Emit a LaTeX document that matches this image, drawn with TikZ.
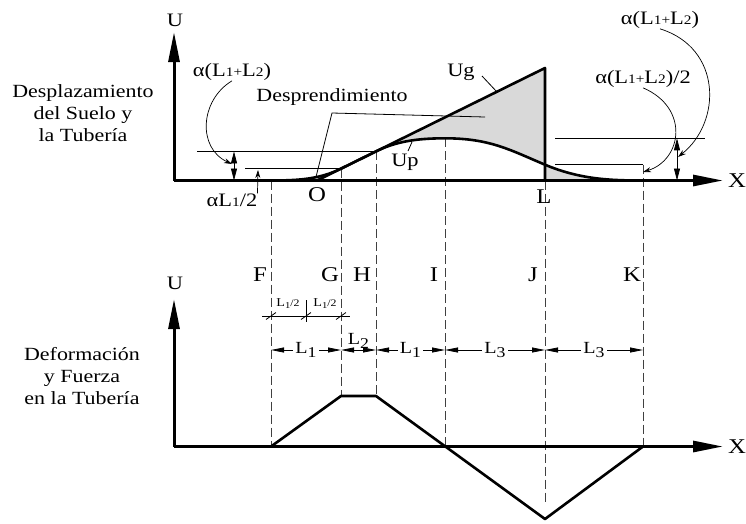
\documentclass[tikz,border=0pt]{standalone}
\usepackage{fontspec}
\setmainfont{Liberation Serif}[FakeStretch=1.18]
\usetikzlibrary{arrows.meta, positioning, calc}

\newcommand{\smallnum}[1]{{\fontsize{13}{13}\selectfont #1}}
\newcommand{\lowsub}[1]{\raisebox{-4pt}{\fontsize{15}{15}\selectfont #1}}
\newcommand{\halfL}{L\raisebox{-2pt}{\fontsize{9}{9}\selectfont 1}{\fontsize{10}{10}\selectfont /2}}

\tikzset{
  axisarrow/.style={line width=3pt, -{Triangle[length=30pt,width=11pt]}},
  pipe/.style={line width=2.6pt, line join=round},
  guideline/.style={line width=0.9pt, black!75, dash pattern=on 9pt off 4pt},
  thinline/.style={line width=0.8pt},
  dimarrow/.style={line width=0.8pt, {Triangle[length=13pt,width=5pt]}-{Triangle[length=13pt,width=5pt]}},
  levelarrow/.style={line width=0.8pt, {Triangle[length=12pt,width=6pt]}-{Triangle[length=12pt,width=6pt]}},
  leaderline/.style={line width=0.7pt, -{Stealth[length=8pt,width=5pt]}},
  lettr/.style={font=\fontsize{21}{21}\selectfont, inner sep=0pt},
  axlabel/.style={font=\fontsize{19}{19}\selectfont, inner sep=0pt},
  bigtext/.style={align=center, font=\fontsize{18.6}{21.7}\selectfont, inner sep=0pt},
  alabel/.style={font=\fontsize{19}{19}\selectfont, inner sep=0pt},
  dimlabel/.style={font=\fontsize{17}{17}\selectfont, fill=white, inner sep=2pt},
}

\begin{document}
\begin{tikzpicture}[x=1pt, y=-1pt]
    \useasboundingbox (0,0) rectangle (746,523);

    % Key points, upper plot
    \coordinate (orig) at (174,180.5);
    \coordinate (xend) at (723,180.5);
    \coordinate (yend) at (174,32);
    \coordinate (F) at (271,180.5);
    \coordinate (O) at (317,180.5);
    \coordinate (G) at (341,168.66);
    \coordinate (Gax) at (341,180.5);
    \coordinate (H) at (376,151.4);
    \coordinate (I) at (445,138.3);
    \coordinate (L) at (545,180.5);
    \coordinate (Lp) at (545,164.7);
    \coordinate (Ltop) at (545,68);
    \coordinate (K) at (643,180.5);
    \coordinate (Kup) at (643,164.7);

    % Key points, lower plot
    \coordinate (orig2) at (174,446.5);
    \coordinate (xend2) at (723,446.5);
    \coordinate (yend2) at (174,299);
    \coordinate (Fb) at (271,446.5);
    \coordinate (Gb) at (341,396);
    \coordinate (Hb) at (376,396);
    \coordinate (Ib) at (445,446.5);
    \coordinate (Jb) at (545,519);
    \coordinate (Jd) at (545,505);
    \coordinate (Kb) at (643,446.5);

    % Gray areas
    \fill[black!15] (F) .. controls (300,180.5) and (320,178.9) .. (G) -- (Gax) -- cycle;
    \fill[white] (O) -- (G) -- (Gax) -- cycle;
    \fill[black!15] (H) -- (Ltop) -- (Lp) .. controls (510,150) and (490,138.3) .. (I)
        .. controls (415,138.3) and (395,142) .. (H) -- cycle;
    \fill[black!15] (Lp) .. controls (580,179.4) and (610,180.5) .. (K) -- (L) -- cycle;

    % Level lines
    \coordinate (lvA) at (197,151.4);
    \coordinate (lvB) at (245,168.66);
    \coordinate (lvC) at (555,138.3);
    \coordinate (lvD) at (705,138.3);
    \coordinate (lvE) at (555,164.7);
    \draw[thinline] (lvA) -- (H);
    \draw[thinline] (lvB) -- (G);
    \draw[thinline] (lvC) -- (lvD);
    \draw[thinline] (lvE) -- (Kup);

    % Dashed guides
    \draw[guideline] (F) -- (Fb);
    \draw[guideline] (G) -- (Gb);
    \draw[guideline] (H) -- (Hb);
    \draw[guideline] (I) -- (Ib);
    \draw[guideline] (L) -- (Jd);
    \draw[guideline] (Kup) -- (Kb);

    % Ground and pipe displacement
    \draw[pipe] (O) -- (Ltop) -- (L);
    \draw[pipe] (F) .. controls (300,180.5) and (320,178.9) .. (G) -- (H)
        .. controls (395,142) and (415,138.3) .. (I)
        .. controls (490,138.3) and (510,150) .. (Lp)
        .. controls (580,179.4) and (610,180.5) .. (K);

    % Pipe strain and force
    \draw[pipe] (Fb) -- (Gb) -- (Hb) -- (Jb) -- (Kb);

    % Axes
    \draw[axisarrow] (orig) -- (xend);
    \draw[axisarrow] (orig) -- (yend);
    \draw[axisarrow] (orig2) -- (xend2);
    \draw[axisarrow] (orig2) -- (yend2);
    \node[axlabel] (uTop) at (175,20) {U};
    \node[axlabel] (uBot) at (175,283) {U};
    \node[lettr] (xTop) at (737,181) {X};
    \node[lettr] (xBot) at (737,447) {X};
    \node[lettr] (labO) at (317,195) {O};
    \node[lettr] (labL) at (544,197) {L};

    \node[bigtext] (txtTop) at (83,113) {Desplazamiento\\del Suelo y\\la Tubería};
    \node[bigtext] (txtBot) at (82,376) {Deformación\\y Fuerza\\en la Tubería};

    % Station letters
    \foreach \n/\x in {F/260, G/330, H/362, I/434, J/533, K/632} {
        \node[lettr] (lab\n) at (\x,275) {\n};
    }

    % Level markers
    \coordinate (mkA) at (234,151.4);
    \coordinate (mkB) at (234,180.5);
    \coordinate (mkC) at (677,138.3);
    \coordinate (mkD) at (677,180.5);
    \draw[levelarrow] (mkA) -- (mkB);
    \draw[levelarrow] (mkC) -- (mkD);

    % Labels with leaders
    \node[alabel] (aLeft) at (232,72) {α(L\smallnum{1+}L\smallnum{2})};
    \node[alabel] (aHalf) at (232,200) {αL\smallnum{1}/2};
    \node[alabel] (aRight) at (660,20) {α(L\smallnum{1+}L\smallnum{2})};
    \node[alabel] (aRightHalf) at (643,79) {α(L\smallnum{1+}L\smallnum{2})/2};
    \node[bigtext] (desp) at (332,97) {Desprendimiento};
    \node[alabel] (ug) at (461,72) {Ug};
    \node[alabel] (up) at (405,162) {Up};

    \coordinate (tipA) at (232,164);
    \coordinate (tipB) at (678,157);
    \coordinate (tipC) at (643,172);
    \coordinate (tipD) at (258,170);
    \draw[leaderline] (aLeft.south) .. controls (200,100) and (197,148) .. (tipA);
    \draw[leaderline] (aRight.south) .. controls (722,48) and (722,122) .. (tipB);
    \draw[leaderline] (aRightHalf.south) .. controls (690,108) and (682,160) .. (tipC);
    \draw[leaderline] (aHalf.north east) -- (tipD);

    \coordinate (dpA) at (485,117);
    \coordinate (dpB) at (332,113);
    \coordinate (dpC) at (316,177);
    \draw[thinline] (dpA) -- (dpB) -- (dpC);
    \coordinate (ugA) at (482,76);
    \coordinate (ugB) at (497,92);
    \draw[thinline] (ugA) -- (ugB);
    \coordinate (upA) at (408,151);
    \coordinate (upB) at (412,142);
    \draw[thinline] (upA) -- (upB);

    % Half-length ticks
    \coordinate (hL) at (262,316);
    \coordinate (hR) at (350,316);
    \draw[thinline] (hL) -- (hR);
    \foreach \x in {271, 306, 341} {
        \draw[thinline] (\x-5,319.5) -- (\x+5,312.5);
    }
    \coordinate (hmA) at (306,300);
    \coordinate (hmB) at (306,322);
    \draw[thinline] (hmA) -- (hmB);
    \node[font=\fontsize{12}{12}\selectfont, inner sep=0pt] (half1) at (288,304) {\halfL};
    \node[font=\fontsize{12}{12}\selectfont, inner sep=0pt] (half2) at (325,304) {\halfL};

    % Length dimensions
    \foreach \n/\x in {F/271, G/341, H/376, I/445, J/545, K/643} {
        \coordinate (d\n) at (\x,350);
    }
    \foreach \a/\b/\t in {F/G/1, H/I/1, I/J/3, J/K/3} {
        \draw[dimarrow] (d\a) -- node[dimlabel] {L\lowsub{\t}} (d\b);
    }
    \draw[dimarrow] (dG) -- node[above=1pt, font=\fontsize{17}{17}\selectfont, inner sep=0pt] (lenTwo) {L\lowsub{2}} (dH);
\end{tikzpicture}
\end{document}
